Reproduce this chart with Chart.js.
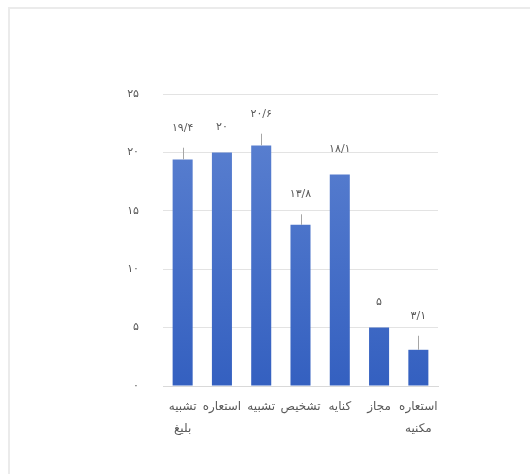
<!DOCTYPE html>
<html>
<head>
<meta charset="utf-8">
<script src="https://cdn.jsdelivr.net/npm/chart.js@4"></script>
<style>
  html, body { margin: 0; padding: 0; background: #fff; overflow: hidden; }
  #frame { position: absolute; left: 8px; top: 7px; width: 540px; height: 480px;
           border-left: 2px solid #ebebeb; border-top: 2px solid #ebebeb; }
  #wrap { position: absolute; left: 0; top: 0; width: 530px; height: 474px; }
</style>
</head>
<body>
<div id="frame"></div>
<div id="wrap"><canvas id="chart" width="530" height="474"></canvas></div>
<script>
// categories (each one may wrap to two lines)
const categories = [
  ["تشبیه", "بلیغ"],
  "استعاره",
  "تشبیه",
  "تشخیص",
  "کنایه",
  "مجاز",
  ["استعاره", "مکنیه"]
];
const values = [19.4, 20, 20.6, 13.8, 18.1, 5, 3.1];
// upper error (only some bars have one)
const errors = [1, 0, 1, 0.9, 0, 0, 1.2];
const yTicks = [0, 5, 10, 15, 20, 25];

const FONT = "'DejaVu Sans', sans-serif";

// 12.5 -> ۱۲/۵
function faNum(n) {
  const digits = "۰۱۲۳۴۵۶۷۸۹";
  return String(n).replace(/[0-9]/g, d => digits[d]).replace(".", "/");
}

// thin upward error lines
const errorBars = {
  id: "errorBars",
  afterDatasetsDraw(chart) {
    const ctx = chart.ctx;
    const meta = chart.getDatasetMeta(0);
    const y = chart.scales.y;
    ctx.save();
    ctx.strokeStyle = "#a6a6a6";
    ctx.lineWidth = 1;
    meta.data.forEach((bar, i) => {
      if (!errors[i]) return;
      ctx.beginPath();
      ctx.moveTo(Math.round(bar.x) + 0.5, bar.y);
      ctx.lineTo(Math.round(bar.x) + 0.5, y.getPixelForValue(values[i] + errors[i]));
      ctx.stroke();
    });
    ctx.restore();
  }
};

// value labels above each bar
const valueLabels = {
  id: "valueLabels",
  afterDatasetsDraw(chart) {
    const ctx = chart.ctx;
    const meta = chart.getDatasetMeta(0);
    const y = chart.scales.y;
    ctx.save();
    ctx.fillStyle = "#595959";
    ctx.font = "11px " + FONT;
    ctx.textAlign = "center";
    ctx.textBaseline = "middle";
    meta.data.forEach((bar, i) => {
      const top = errors[i] ? y.getPixelForValue(values[i] + errors[i]) - 20 : bar.y - 25;
      ctx.fillText(faNum(values[i]), bar.x, top);
    });
    ctx.restore();
  }
};

new Chart(document.getElementById("chart"), {
  type: "bar",
  data: {
    labels: categories,
    datasets: [{
      data: values,
      backgroundColor(c) {
        const area = c.chart.chartArea;
        if (!area) return "#4a72c8";
        const g = c.chart.ctx.createLinearGradient(0, area.top, 0, area.bottom);
        g.addColorStop(0, "#5f84d2");
        g.addColorStop(1, "#3460c0");
        return g;
      },
      categoryPercentage: 1,
      barPercentage: 0.51
    }]
  },
  options: {
    responsive: false,
    animation: false,
    layout: { padding: { left: 121, top: 94, right: 92, bottom: 28 } },
    plugins: { legend: { display: false }, tooltip: { enabled: false } },
    scales: {
      x: {
        grid: { display: false },
        border: { color: "#d9d9d9" },
        ticks: {
          color: "#595959",
          font: { family: FONT, size: 12, lineHeight: 1.8 },
          padding: 2,
          maxRotation: 0,
          autoSkip: false
        },
        afterFit(scale) { scale.height = 60; }
      },
      y: {
        min: 0,
        max: 25,
        afterBuildTicks(scale) { scale.ticks = yTicks.map(v => ({ value: v })); },
        grid: { color: "#e3e3e3", drawTicks: false },
        border: { display: false },
        ticks: {
          color: "#595959",
          font: { family: FONT, size: 11 },
          padding: 24,
          callback: v => faNum(v)
        },
        afterFit(scale) { scale.width = 42; }
      }
    }
  },
  plugins: [errorBars, valueLabels]
});
</script>
</body>
</html>
